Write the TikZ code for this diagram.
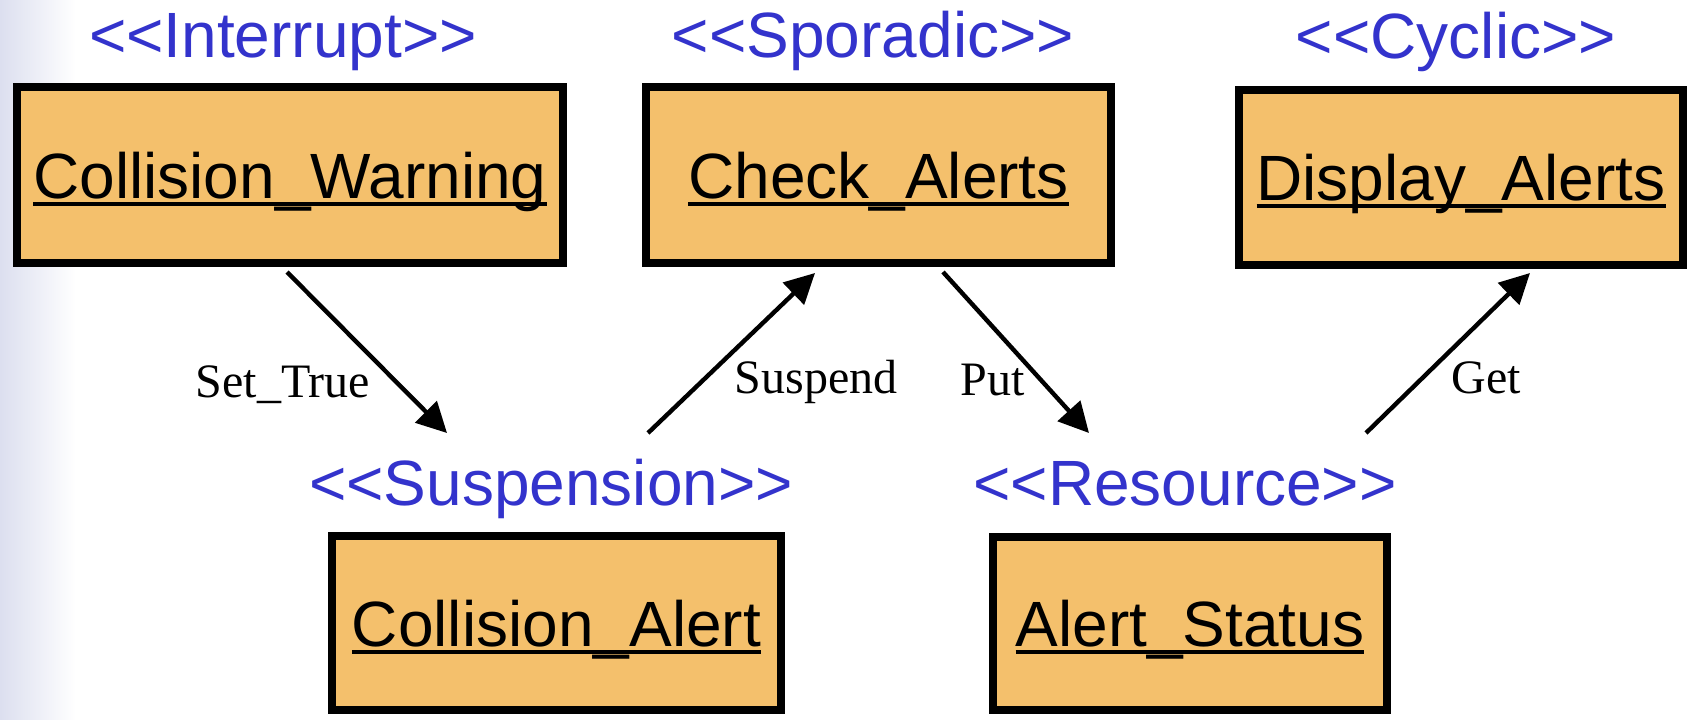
\documentclass[tikz,border=0pt]{standalone}
\usepackage{fontspec}
\setmainfont{Liberation Sans}
\newfontfamily\edgefont{Liberation Serif}
\usetikzlibrary{arrows.meta}
\definecolor{boxfill}{RGB}{244,192,108}
\definecolor{stereo}{RGB}{51,51,204}
\definecolor{stripc}{RGB}{220,223,239}
\newcommand\ulbox[1]{\setbox0\hbox{#1}\rlap{\rule[-0.12em]{\wd0}{0.06em}}\box0}
\begin{document}
\begin{tikzpicture}[x=0.5pt,y=-0.5pt,
  taskbox/.style={draw=black,line width=4pt,fill=boxfill,inner sep=0pt,
    font=\fontsize{32}{38}\selectfont,text height=23pt,text depth=0pt},
  stereolabel/.style={text=stereo,font=\fontsize{32}{38}\selectfont,anchor=base,inner sep=0pt},
  edgelabel/.style={font=\edgefont\fontsize{24}{28}\selectfont,anchor=base,inner sep=0pt},
  flow/.style={line width=2.2pt,-{Triangle[length=15pt,width=15pt]}}]
\useasboundingbox (0,0) rectangle (1696,719);
\fill[white] (0,0) rectangle (1696,719);
\shade[left color=stripc,right color=white] (0,0) rectangle (76,719);

% boxes
\node[taskbox,minimum width=273pt,minimum height=88pt] (cw) at (290,175) {\ulbox{Collision\_Warning}};
\node[taskbox,minimum width=232.5pt,minimum height=88pt] (ca) at (878.5,175) {\ulbox{Check\_Alerts}};
\node[taskbox,minimum width=222pt,minimum height=87.5pt] (da) at (1461,177.5) {\ulbox{Display\_Alerts}};
\node[taskbox,minimum width=224.5pt,minimum height=87pt] (col) at (556.5,623) {\ulbox{Collision\_Alert}};
\node[taskbox,minimum width=197pt,minimum height=86.5pt] (as) at (1190,623.5) {\ulbox{Alert\_Status}};

% stereotypes
\node[stereolabel] (st1) at (283,57) {<{}<Interrupt>{}>};
\node[stereolabel] (st2) at (873,57) {<{}<Sporadic>{}>};
\node[stereolabel] (st3) at (1456,58) {<{}<Cyclic>{}>};
\node[stereolabel] (st4) at (551,505) {<{}<Suspension>{}>};
\node[stereolabel] (st5) at (1185,505) {<{}<Resource>{}>};

% connector end points
\coordinate (a1s) at (287,272);  \coordinate (a1e) at (447,433);
\coordinate (a2s) at (648,433);  \coordinate (a2e) at (815,273);
\coordinate (a3s) at (943,272);  \coordinate (a3e) at (1089,433);
\coordinate (a4s) at (1366,433); \coordinate (a4e) at (1530,273);

\draw[flow] (a1s) -- (a1e);
\draw[flow] (a2s) -- (a2e);
\draw[flow] (a3s) -- (a3e);
\draw[flow] (a4s) -- (a4e);

% edge labels
\node[edgelabel] (l1) at (283,397) {Set\_True};
\node[edgelabel] (l2) at (816,393) {Suspend};
\node[edgelabel] (l3) at (993,395) {Put};
\node[edgelabel] (l4) at (1486,393) {Get};
\end{tikzpicture}
\end{document}
